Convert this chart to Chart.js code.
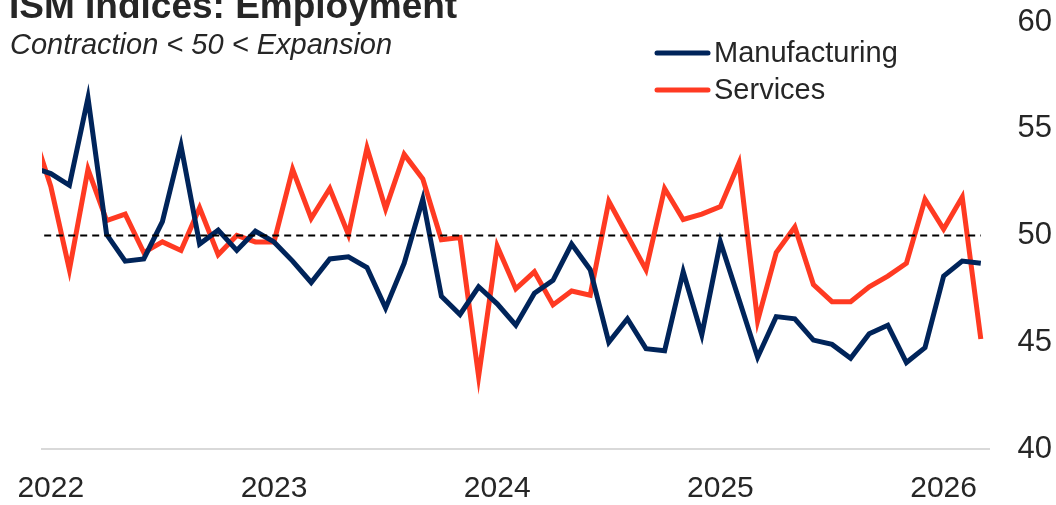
<!DOCTYPE html>
<html>
<head>
<meta charset="utf-8">
<script src="https://cdn.jsdelivr.net/npm/chart.js@4/dist/chart.umd.min.js"></script>
<style>
    html, body { margin: 0; padding: 0; background: #fff; }
    #wrap { width: 1056px; height: 505px; position: relative; }
</style>
</head>
<body>
<div id="wrap"><canvas id="ismChart"></canvas></div>
<script>
// Monthly readings, Dec 2021 .. Mar 2026
const months = [
    'Dec 2021',
    'Jan 2022', 'Feb 2022', 'Mar 2022', 'Apr 2022', 'May 2022', 'Jun 2022', 'Jul 2022', 'Aug 2022', 'Sep 2022', 'Oct 2022', 'Nov 2022', 'Dec 2022',
    'Jan 2023', 'Feb 2023', 'Mar 2023', 'Apr 2023', 'May 2023', 'Jun 2023', 'Jul 2023', 'Aug 2023', 'Sep 2023', 'Oct 2023', 'Nov 2023', 'Dec 2023',
    'Jan 2024', 'Feb 2024', 'Mar 2024', 'Apr 2024', 'May 2024', 'Jun 2024', 'Jul 2024', 'Aug 2024', 'Sep 2024', 'Oct 2024', 'Nov 2024', 'Dec 2024',
    'Jan 2025', 'Feb 2025', 'Mar 2025', 'Apr 2025', 'May 2025', 'Jun 2025', 'Jul 2025', 'Aug 2025', 'Sep 2025', 'Oct 2025', 'Nov 2025', 'Dec 2025',
    'Jan 2026', 'Feb 2026', 'Mar 2026'
];

const manufacturing = [
    53.2,
    52.9, 52.35, 56.45, 50.05, 48.8, 48.9, 50.65, 54.2, 49.6, 50.25, 49.3, 50.2,
    49.7, 48.8, 47.8, 48.9, 49.0, 48.5, 46.6, 48.7, 51.7, 47.15, 46.3, 47.6,
    46.8, 45.8, 47.3, 47.9, 49.6, 48.4, 45.0, 46.1, 44.7, 44.6, 48.3, 45.35,
    49.7, 47.0, 44.3, 46.2, 46.1, 45.1, 44.9, 44.25, 45.4, 45.8, 44.05, 44.75,
    48.1, 48.8, 48.7
];

const services = [
    55.0,
    52.3, 48.4, 53.1, 50.7, 51.0, 49.2, 49.7, 49.3, 51.3, 49.1, 50.0, 49.7,
    49.7, 53.1, 50.8, 52.2, 50.05, 54.1, 51.25, 53.8, 52.65, 49.8, 49.9, 43.4,
    49.5, 47.5, 48.3, 46.75, 47.4, 47.2, 51.6, 50.0, 48.4, 52.2, 50.75, 51.0,
    51.35, 53.4, 46.0, 49.2, 50.4, 47.7, 46.9, 46.9, 47.6, 48.1, 48.7, 51.7,
    50.3, 51.8, 45.15
];

const yearLabels = ['2022', '2023', '2024', '2025', '2026'];
const yTicks = [40, 45, 50, 55, 60];

const NAVY = '#00245A';
const RED = '#FF3A22';
const TEXT = '#262626';
const FONT = '"Liberation Sans", Arial, sans-serif';

const toPoints = arr => arr.map((v, i) => ({ x: i, y: v }));
const yearIdx = yearLabels.map(y => months.indexOf('Jan ' + y));

// Title, subtitle and legend drawn on top of the chart
const overlay = {
    id: 'overlay',
    afterDraw(chart) {
        const ctx = chart.ctx;
        ctx.save();
        ctx.fillStyle = TEXT;
        ctx.textAlign = 'left';
        ctx.textBaseline = 'alphabetic';
        ctx.font = 'bold 37px ' + FONT;
        ctx.fillText('ISM Indices: Employment', 9, 18);
        ctx.font = 'italic 29px ' + FONT;
        ctx.fillText('Contraction < 50 < Expansion', 10, 54);

        const items = [['Manufacturing', NAVY, 53], ['Services', RED, 90]];
        items.forEach(([label, color, y]) => {
            ctx.strokeStyle = color;
            ctx.lineWidth = 5;
            ctx.lineCap = 'round';
            ctx.beginPath();
            ctx.moveTo(657, y);
            ctx.lineTo(708, y);
            ctx.stroke();
            ctx.fillStyle = TEXT;
            ctx.font = '29px ' + FONT;
            ctx.textBaseline = 'middle';
            ctx.fillText(label, 714, y + 1);
        });
        ctx.restore();
    }
};

const ctx = document.getElementById('ismChart').getContext('2d');
const ismChart = new Chart(ctx, {
    type: 'line',
    data: {
        datasets: [
            {
                label: 'Manufacturing',
                data: toPoints(manufacturing),
                borderColor: NAVY,
                borderWidth: 5,
                pointRadius: 0,
                tension: 0,
                clip: 0
            },
            {
                label: 'Services',
                data: toPoints(services),
                borderColor: RED,
                borderWidth: 5,
                pointRadius: 0,
                tension: 0,
                clip: 0
            },
            {
                label: 'Threshold',
                data: toPoints(months.map(() => 50)),
                borderColor: '#000',
                borderWidth: 2,
                borderDash: [7, 5],
                pointRadius: 0,
                clip: 0,
                order: -1
            }
        ]
    },
    options: {
        responsive: true,
        maintainAspectRatio: false,
        animation: false,
        layout: { padding: { left: 42, top: 22, right: 4, bottom: 0 } },
        plugins: {
            legend: { display: false },
            tooltip: { enabled: false }
        },
        scales: {
            x: {
                type: 'linear',
                min: 0.527,
                max: 51.44,
                grid: { display: false },
                border: { display: true, color: '#d9d9d9', width: 2 },
                afterBuildTicks: axis => {
                    axis.ticks = yearIdx.map(v => ({ value: v }));
                },
                afterFit: axis => { axis.height = 56; },
                ticks: {
                    autoSkip: false,
                    maxRotation: 0,
                    padding: 14,
                    color: TEXT,
                    font: { family: FONT, size: 30 },
                    callback: v => yearLabels[yearIdx.indexOf(v)]
                }
            },
            y: {
                position: 'right',
                min: 40,
                max: 60,
                grid: { display: false },
                border: { display: false },
                afterBuildTicks: axis => {
                    axis.ticks = yTicks.map(v => ({ value: v }));
                },
                afterFit: axis => { axis.width = 63; },
                ticks: {
                    padding: 0,
                    crossAlign: 'far',
                    color: TEXT,
                    font: { family: FONT, size: 31 }
                }
            }
        }
    },
    plugins: [overlay]
});
</script>
</body>
</html>
